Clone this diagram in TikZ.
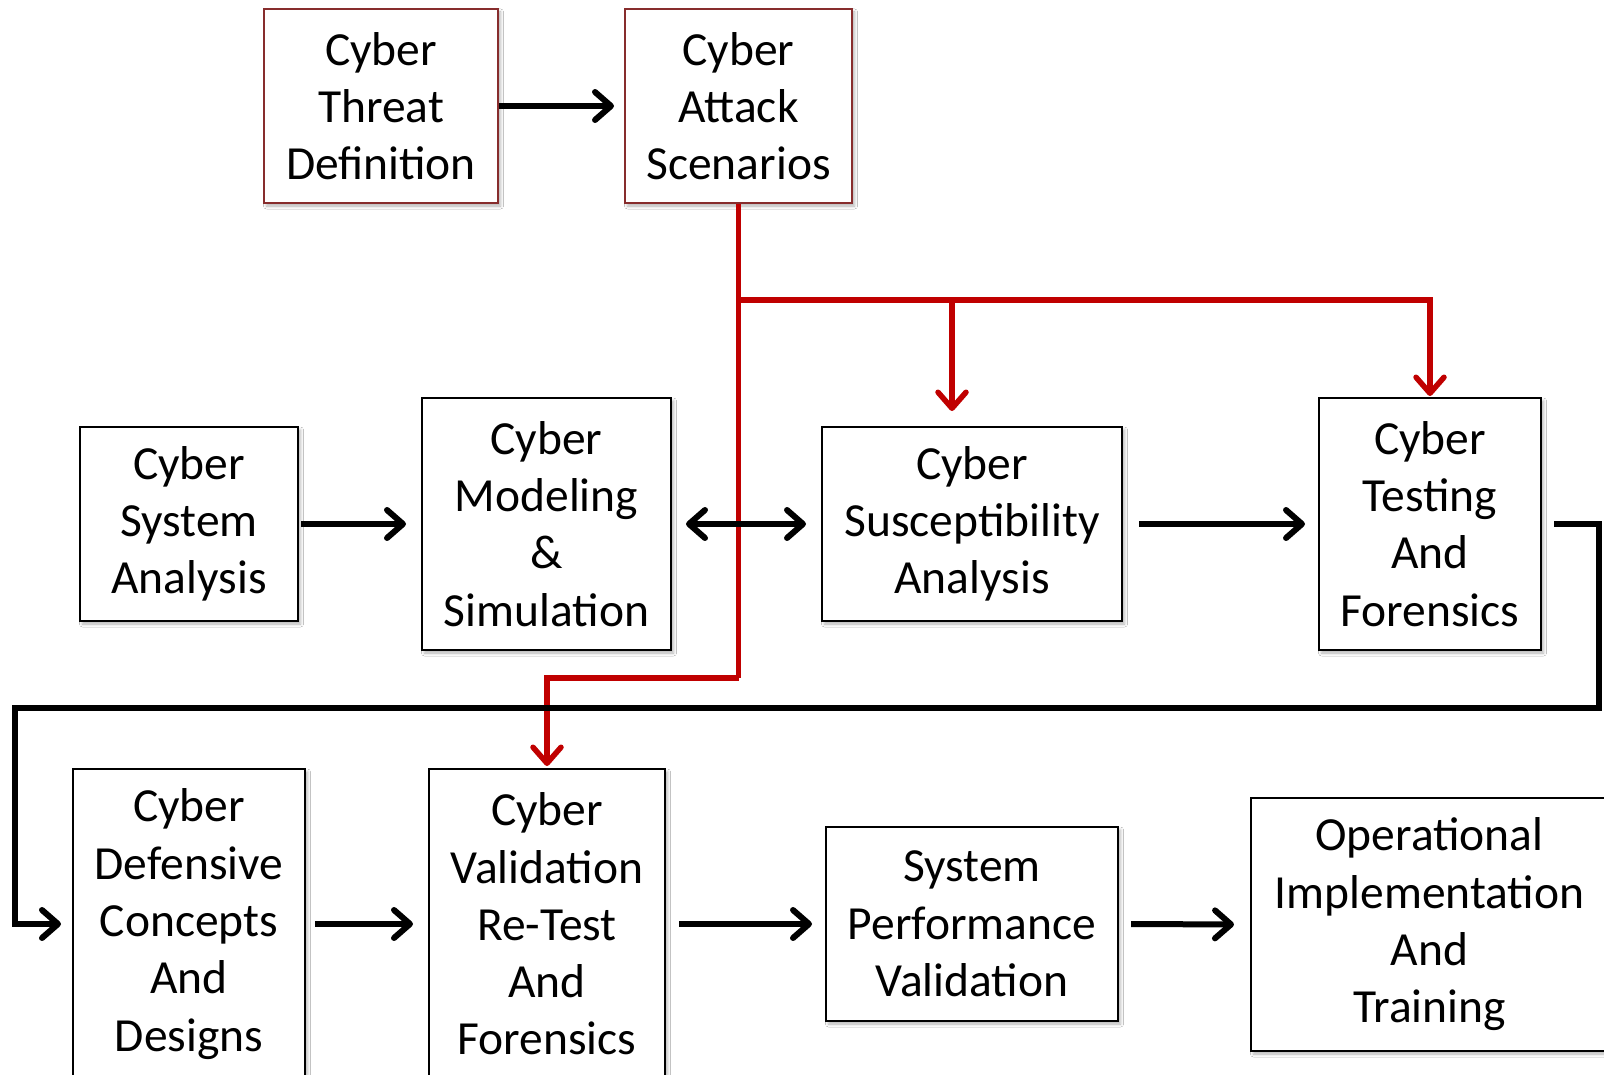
\documentclass[tikz,border=0pt]{standalone}
\usepackage{fontspec}
\setmainfont{Carlito}
\usetikzlibrary{arrows.meta,shadows.blur}
\definecolor{flowred}{RGB}{192,0,0}
\definecolor{boxmaroon}{RGB}{135,45,45}
\begin{document}
\begin{tikzpicture}[x=1pt,y=-1pt,
  chev/.tip={Straight Barb[length=16pt,width=28pt,line cap=round,line join=round]},
  box/.style={draw=black, line width=2pt, fill=white, align=center, inner sep=0pt,
    font=\fontsize{47.5}{57.3}\selectfont,
    blur shadow={shadow xshift=2.5pt, shadow yshift=-3pt, shadow blur radius=3pt, shadow opacity=30}},
  topbox/.style={box, draw=boxmaroon},
  flow/.style={draw=black, line width=6pt, -chev},
  redflow/.style={draw=flowred, line width=5.5pt, -chev},
  redline/.style={draw=flowred, line width=5.5pt}
]
\useasboundingbox (0,0) rectangle (1604,1075);
\clip (0,0) rectangle (1604,1075);
\fill[white] (0,0) rectangle (1604,1075);

% threat and attack definition row
\node[topbox, minimum width=234pt, minimum height=194pt] (threat) at (381,106) {Cyber\\Threat\\Definition};
\node[topbox, minimum width=227pt, minimum height=194pt] (attack) at (738.5,106) {Cyber\\Attack\\Scenarios};

% analysis row
\node[box, minimum width=218pt, minimum height=194pt] (sys) at (189,524) {Cyber\\System\\Analysis};
\node[box, minimum width=249pt, minimum height=252pt] (model) at (546.5,524) {Cyber\\Modeling\\\&\\Simulation};
\node[box, minimum width=300pt, minimum height=194pt] (susc) at (972,524) {Cyber\\Susceptibility\\Analysis};
\node[box, minimum width=222pt, minimum height=252pt] (test) at (1430,524) {Cyber\\Testing\\And\\Forensics};

% defence and deployment row
\node[box, minimum width=232pt, minimum height=310pt] (defen) at (189,924) {Cyber\\Defensive\\Concepts\\And\\Designs};
\node[box, minimum width=236pt, minimum height=310pt] (valid) at (547,924) {Cyber\\Validation\\Re-Test\\And\\Forensics};
\node[box, minimum width=292pt, minimum height=194pt] (perf) at (972,924) {System\\Performance\\Validation};
\node[box, minimum width=357pt, minimum height=253pt] (oper) at (1429.5,924.5) {Operational\\Implementation\\And\\Training};

% routing points
\coordinate (redbus) at (attack.south |- 0,300);
\coordinate (redlow) at (attack.south |- 0,678);
\coordinate (sbranch) at (952,300);
\coordinate (loopR) at (1599,708);
\coordinate (loopL) at (15,708);

% attack scenarios feed the downstream stages
\draw[redline] (attack.south) -- (redlow);
\draw[redflow, shorten >=2pt] (redlow) -| (valid.north);
\draw[redflow, shorten >=1pt] (redbus) -| (test.north);
\draw[redflow, shorten >=15pt] (sbranch) -- (sbranch |- susc.north);

% black process flow
\draw[flow, shorten >=10pt] (threat.east) -- (attack.west);
\draw[flow, shorten <=2pt, shorten >=15pt] (sys.east) -- (model.west);
\draw[flow, chev-chev, shorten <=14pt, shorten >=15pt] (model.east) -- (susc.west);
\draw[flow, shorten <=16pt, shorten >=13pt] (susc.east) -- (test.west);
\draw[flow, shorten <=12pt, shorten >=11pt] (test.east) -| (loopR) -- (loopL) |- (defen.west);
\draw[flow, shorten <=9pt, shorten >=15pt] (defen.east) -- (valid.west);
\draw[flow, shorten <=13pt, shorten >=13pt] (valid.east) -- (perf.west);
\draw[flow, shorten <=12pt, shorten >=16pt] (perf.east) -- (oper.west);
\end{tikzpicture}
\end{document}
